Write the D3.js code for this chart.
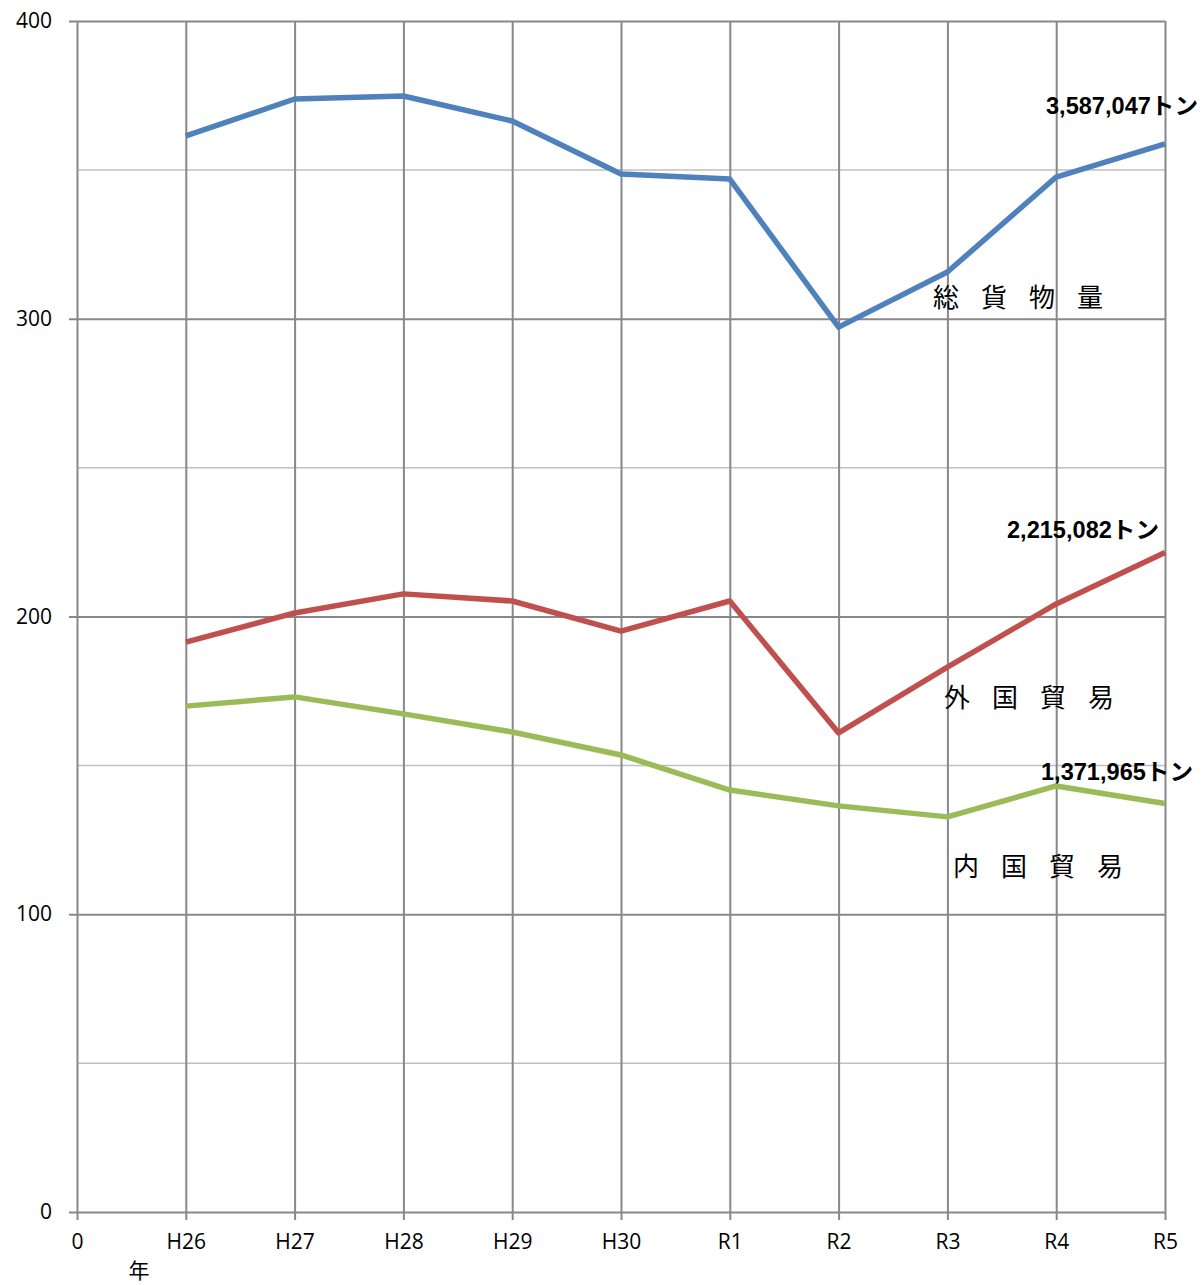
<!DOCTYPE html>
<html>
<head>
<meta charset="utf-8">
<script src="https://cdn.jsdelivr.net/npm/d3@7"></script>
<style>
  body { margin: 0; background: #fff; }
  .tick text { font-family: "Open Sans", "Noto Sans", sans-serif; font-size: 21px; fill: #000; }
  .name { font-family: "Noto Sans CJK JP", sans-serif; font-size: 26px; fill: #000; }
  .val { font-family: "Liberation Sans Narrow", "Liberation Sans", "Noto Sans CJK JP", sans-serif; font-size: 23px; font-weight: bold; fill: #000; }
</style>
</head>
<body>
<div class="chart"></div>
<script>
// years (万トン)
let years = ["0", "H26", "H27", "H28", "H29", "H30", "R1", "R2", "R3", "R4", "R5"];
let dataYears = ["H26", "H27", "H28", "H29", "H30", "R1", "R2", "R3", "R4", "R5"];
let total = [361.4, 373.8, 374.8, 366.4, 348.6, 346.9, 297.2, 315.7, 347.6, 358.7];
let foreign = [191.4, 201.2, 207.6, 205.2, 195.1, 205.2, 160.9, 183.0, 204.2, 221.5];
let domestic = [169.9, 173.0, 167.3, 161.2, 153.5, 141.7, 136.4, 132.7, 143.1, 137.2];
let yTicks = [0, 100, 200, 300, 400];
let minorTicks = [50, 150, 250, 350];

let margin = {top: 21, right: 37, bottom: 73, left: 77};
let width = 1202 - margin.left - margin.right;
let height = 1285 - margin.top - margin.bottom;

let svg = d3.select('.chart')
    .append('svg')
    .attr('width', 1202)
    .attr('height', 1285)
    .append("g")
    .attr("transform", `translate(${margin.left},${margin.top})`);

let xScale = d3.scalePoint()
    .domain(years)
    .range([0, width]);

let yScale = d3.scaleLinear()
    .domain([0, 400])
    .range([height, 0]);

// minor grid
svg.selectAll(".minor")
    .data(minorTicks)
    .enter()
    .append("line")
    .attr("x1", 0)
    .attr("x2", width)
    .attr("y1", d => yScale(d))
    .attr("y2", d => yScale(d))
    .attr("stroke", "#bfbfbf")
    .attr("stroke-width", 1.5);

// y axis with major grid
let yAxis = d3.axisLeft(yScale)
    .tickValues(yTicks)
    .tickSize(-width - 8)
    .tickPadding(17)
    .tickFormat(d3.format("d"));

svg.append("g")
    .attr("class", "axis y-axis")
    .attr("transform", "translate(-8,0)")
    .call(yAxis)
    .call(g => g.select(".domain").remove())
    .call(g => g.selectAll(".tick line").attr("stroke", "#888").attr("stroke-width", 2));

// x axis with vertical grid
let xAxis = d3.axisBottom(xScale)
    .tickSize(-height - 8)
    .tickPadding(14);

svg.append("g")
    .attr("class", "axis x-axis")
    .attr("transform", `translate(0,${height + 8})`)
    .call(xAxis)
    .call(g => g.select(".domain").remove())
    .call(g => g.selectAll(".tick line").attr("stroke", "#888").attr("stroke-width", 2));

svg.append("text")
    .attr("class", "name")
    .attr("x", 62)
    .attr("y", 1257)
    .attr("text-anchor", "middle")
    .style("font-size", "21px")
    .text("年");

let series = [
    {name: "総貨物量", values: total, color: "#4F81BD", nx: 933, ny: 307, label: "3,587,047トン", lx: 1046, ly: 114},
    {name: "外国貿易", values: foreign, color: "#C0504D", nx: 944, ny: 707, label: "2,215,082トン", lx: 1007, ly: 538},
    {name: "内国貿易", values: domestic, color: "#9BBB59", nx: 953, ny: 876, label: "1,371,965トン", lx: 1041, ly: 780}
];

let line = d3.line()
    .x((d, i) => xScale(dataYears[i]))
    .y(d => yScale(d));

series.forEach(s => {
    svg.append("path")
        .datum(s.values)
        .attr("d", line)
        .attr("fill", "none")
        .attr("stroke", s.color)
        .attr("stroke-width", 5.5)
        .attr("stroke-linejoin", "round");

    svg.append("text")
        .attr("class", "name")
        .attr("x", s.nx - margin.left)
        .attr("y", s.ny - margin.top)
        .attr("letter-spacing", "22px")
        .text(s.name);

    svg.append("text")
        .attr("class", "val")
        .attr("x", s.lx - margin.left)
        .attr("y", s.ly - margin.top)
        .attr("textLength", 152)
        .attr("lengthAdjust", "spacingAndGlyphs")
        .text(s.label);
});
</script>
</body>
</html>
